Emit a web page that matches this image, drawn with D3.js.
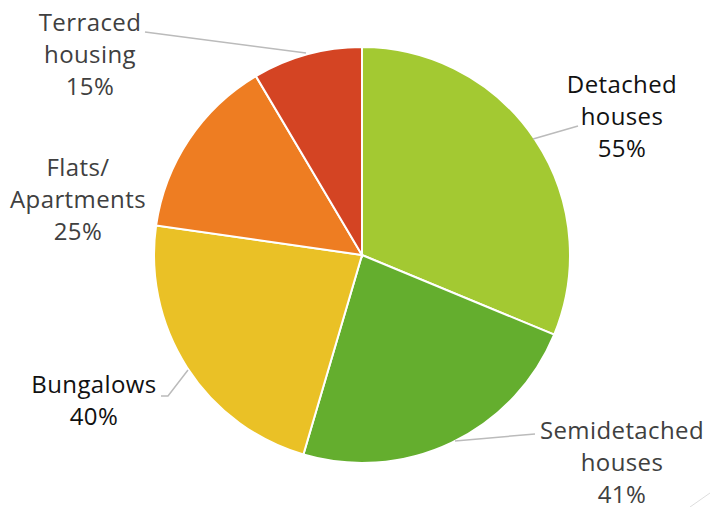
<!DOCTYPE html>
<html>
<head>
<meta charset="utf-8">
<script src="https://cdn.jsdelivr.net/npm/d3@7"></script>
<style>
  body { margin: 0; background: #fff; }
  svg text { font-family: "Open Sans", "DejaVu Sans", sans-serif; }
</style>
</head>
<body>
<div id="chart"></div>
<script>
// data
const categories = ["Detached houses", "Semidetached houses", "Bungalows", "Flats/ Apartments", "Terraced housing"];
const values = [55, 41, 40, 25, 15];
const labelLines = [
    ["Detached", "houses", "55%"],
    ["Semidetached", "houses", "41%"],
    ["Bungalows", "40%"],
    ["Flats/", "Apartments", "25%"],
    ["Terraced", "housing", "15%"]
];
const colors = ["#A3C932", "#64AE2E", "#EAC126", "#EE7D22", "#D44423"];
const textColors = ["#111111", "#404040", "#111111", "#404040", "#404040"];

const width = 710, height = 507;
const cx = 362, cy = 255, radius = 208;

const svg = d3.select("#chart").append("svg")
    .attr("width", width)
    .attr("height", height);

const pie = d3.pie().sort(null).value(d => d)(values);
const arc = d3.arc().innerRadius(0).outerRadius(radius);

const g = svg.append("g").attr("transform", `translate(${cx}, ${cy})`);

g.selectAll(".slice")
    .data(pie)
    .enter().append("path")
    .attr("class", "slice")
    .attr("d", arc)
    .attr("fill", (d, i) => colors[i])
    .attr("stroke", "#fff")
    .attr("stroke-width", 2);

// label placement (center x, center y of first line) and leader lines
const labelPos = [
    {x: 622, y: 85},
    {x: 622, y: 431},
    {x: 94, y: 385},
    {x: 78, y: 168},
    {x: 90, y: 23}
];
const leaders = [
    [[533, 139], [578, 126]],
    [[455, 441], [535, 434]],
    [[161, 396], [168, 396], [188, 370]],
    null,
    [[145, 32], [306, 53]]
];

const lineGen = d3.line();
svg.selectAll(".leader")
    .data(leaders.filter(d => d))
    .enter().append("path")
    .attr("class", "leader")
    .attr("d", d => lineGen(d))
    .attr("fill", "none")
    .attr("stroke", "#BBBBBB")
    .attr("stroke-width", 1.5);

// faint stray line bottom right
svg.append("path")
    .attr("d", lineGen([[690, 507], [710, 493]]))
    .attr("stroke", "#DDDDDD")
    .attr("stroke-width", 1);

const labels = svg.selectAll(".label")
    .data(labelLines)
    .enter().append("text")
    .attr("class", "label")
    .attr("text-anchor", "middle")
    .attr("font-size", 24)
    .attr("letter-spacing", 0.4)
    .attr("fill", (d, i) => textColors[i]);

labels.each(function(lines, i) {
    const t = d3.select(this);
    lines.forEach((s, j) => {
        t.append("tspan")
            .attr("x", labelPos[i].x)
            .attr("y", labelPos[i].y + 8 + j * 32)
            .text(s);
    });
});
</script>
</body>
</html>
